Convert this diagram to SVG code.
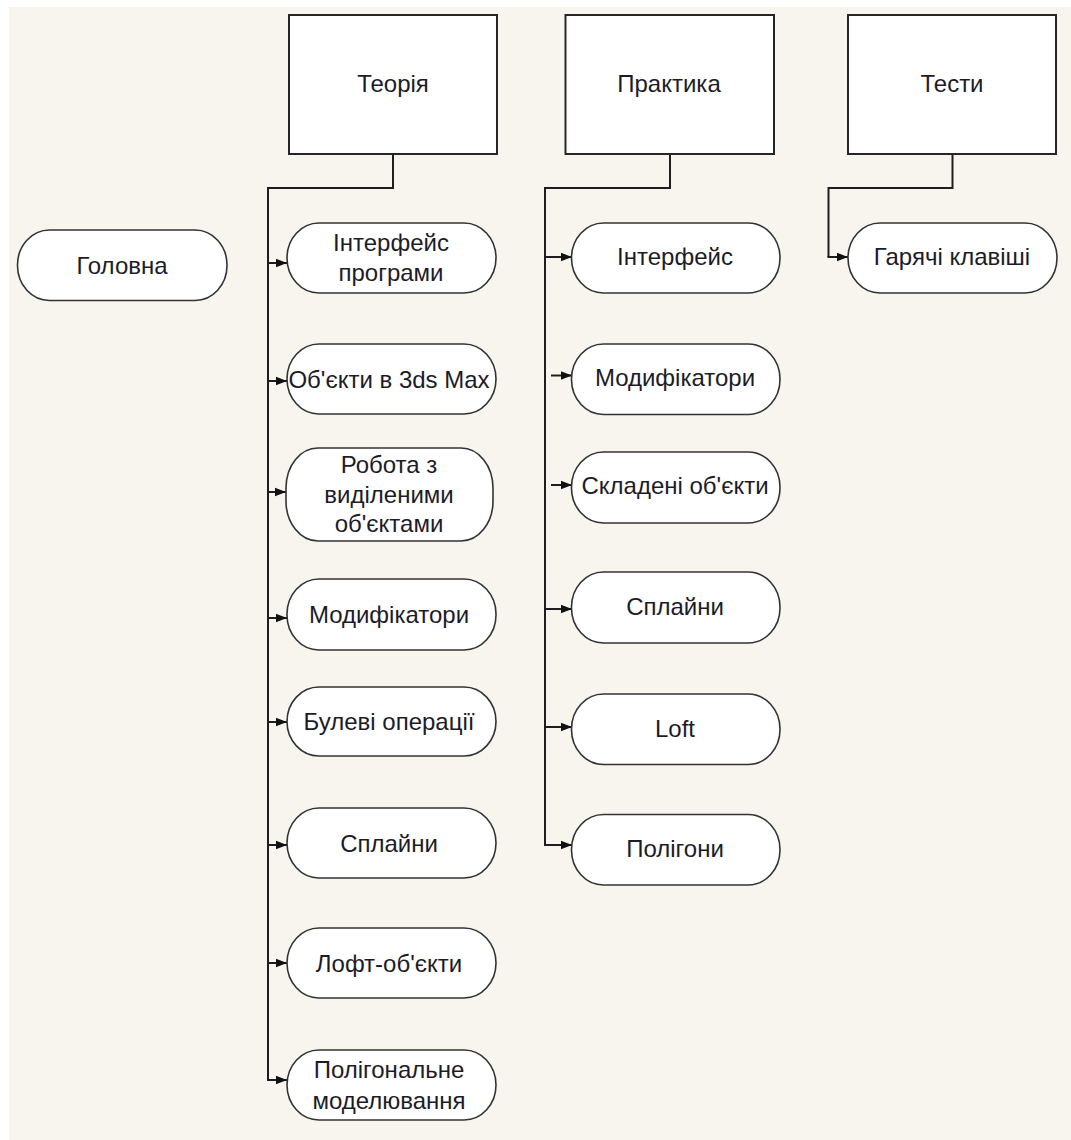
<svg xmlns="http://www.w3.org/2000/svg" width="1071" height="1140" viewBox="0 0 1071 1140">
  <style>
    .box { fill: #ffffff; stroke: #262626; stroke-width: 2; }
    .pill { fill: #ffffff; stroke: #333333; stroke-width: 1.6; }
    .lbl { font-family: "Liberation Sans", Arial, sans-serif; font-size: 24px; fill: #1c1c28; text-anchor: middle; }
    .wire { fill: none; stroke: #1e1e1e; stroke-width: 2; }
    .stub { fill: none; stroke: #1e1e1e; stroke-width: 2; marker-end: url(#head); }
  </style>
  <defs>
    <marker id="head" markerUnits="userSpaceOnUse" markerWidth="12" markerHeight="10" refX="11" refY="5" orient="auto">
      <path d="M0,0.8 L11,5 L0,9.2 Z" fill="#111111"/>
    </marker>
  </defs>

  <!-- canvas -->
  <rect x="0" y="0" width="1071" height="1140" fill="#ffffff"/>
  <rect x="9" y="7" width="1062" height="1133" fill="#f8f5ee"/>

  <!-- connectors -->
  <g id="connectors">
    <path class="wire" d="M393,154 V188 H268 V1080"/>
    <path class="stub" d="M268,263 H287"/>
    <path class="stub" d="M268,381 H287"/>
    <path class="stub" d="M268,492 H286"/>
    <path class="stub" d="M268,618 H287"/>
    <path class="stub" d="M268,722 H287"/>
    <path class="stub" d="M268,845 H287"/>
    <path class="stub" d="M268,963 H287"/>
    <path class="stub" d="M267,1080 H287"/>

    <path class="wire" d="M670,154 V188 H545 V845"/>
    <path class="stub" d="M545,257 H572"/>
    <path class="stub" d="M551,375.5 H572"/>
    <path class="stub" d="M551,485 H572"/>
    <path class="stub" d="M545,609 H572"/>
    <path class="stub" d="M545,727 H572"/>
    <path class="stub" d="M544,845 H572"/>

    <path class="wire" d="M952.5,154 V188 H828.5 V257"/>
    <path class="stub" d="M827.5,257 H848"/>
  </g>

  <!-- section boxes -->
  <g id="teoriia">
    <rect class="box" x="289" y="15" width="208" height="139"/>
    <text class="lbl" x="393" y="92">Теорія</text>
  </g>
  <g id="praktyka">
    <rect class="box" x="565.5" y="15" width="208.5" height="139"/>
    <text class="lbl" x="669" y="92">Практика</text>
  </g>
  <g id="testy">
    <rect class="box" x="848" y="15" width="208" height="139"/>
    <text class="lbl" x="952" y="92">Тести</text>
  </g>

  <!-- start node -->
  <g id="holovna">
    <rect class="pill" x="17.5" y="230" width="209.5" height="70.5" rx="32" ry="35"/>
    <text class="lbl" x="122" y="274">Головна</text>
  </g>

  <!-- theory topics -->
  <g id="t-interfeis">
    <rect class="pill" x="287" y="223" width="209" height="70" rx="32" ry="35"/>
    <text class="lbl" x="391" y="251">Інтерфейс</text>
    <text class="lbl" x="391" y="281">програми</text>
  </g>
  <g id="t-obiekty">
    <rect class="pill" x="287" y="344" width="209" height="70" rx="32" ry="35"/>
    <text class="lbl" x="389" y="388">Об'єкти в 3ds Max</text>
  </g>
  <g id="t-robota">
    <rect class="pill" x="286" y="448" width="207" height="93" rx="32" ry="40"/>
    <text class="lbl" x="389" y="473">Робота з</text>
    <text class="lbl" x="389" y="502.5">виділеними</text>
    <text class="lbl" x="389" y="532">об'єктами</text>
  </g>
  <g id="t-modyfikatory">
    <rect class="pill" x="287" y="579" width="209" height="71" rx="32" ry="35"/>
    <text class="lbl" x="389" y="623">Модифікатори</text>
  </g>
  <g id="t-bulevi">
    <rect class="pill" x="287" y="687" width="209" height="69" rx="32" ry="34.5"/>
    <text class="lbl" x="389" y="730">Булеві операції</text>
  </g>
  <g id="t-splainy">
    <rect class="pill" x="287" y="808" width="209" height="70" rx="32" ry="35"/>
    <text class="lbl" x="389" y="851.5">Сплайни</text>
  </g>
  <g id="t-loft">
    <rect class="pill" x="287" y="928" width="209" height="70" rx="32" ry="35"/>
    <text class="lbl" x="389" y="971.5">Лофт-об'єкти</text>
  </g>
  <g id="t-polihonalne">
    <rect class="pill" x="287" y="1050" width="209" height="70" rx="32" ry="35"/>
    <text class="lbl" x="389" y="1078">Полігональне</text>
    <text class="lbl" x="389" y="1109">моделювання</text>
  </g>

  <!-- practice topics -->
  <g id="p-interfeis">
    <rect class="pill" x="571.5" y="223" width="208.5" height="70" rx="32" ry="35"/>
    <text class="lbl" x="675" y="265">Інтерфейс</text>
  </g>
  <g id="p-modyfikatory">
    <rect class="pill" x="571.5" y="344" width="208.5" height="70.5" rx="32" ry="35"/>
    <text class="lbl" x="675" y="386">Модифікатори</text>
  </g>
  <g id="p-skladeni">
    <rect class="pill" x="571.5" y="452" width="208.5" height="71" rx="32" ry="35"/>
    <text class="lbl" x="675" y="494">Складені об'єкти</text>
  </g>
  <g id="p-splainy">
    <rect class="pill" x="571.5" y="572" width="208.5" height="71" rx="32" ry="35"/>
    <text class="lbl" x="675" y="615">Сплайни</text>
  </g>
  <g id="p-loft">
    <rect class="pill" x="571.5" y="694" width="208.5" height="70.5" rx="32" ry="35"/>
    <text class="lbl" x="675" y="737">Loft</text>
  </g>
  <g id="p-polihony">
    <rect class="pill" x="571.5" y="814.5" width="208.5" height="70.5" rx="32" ry="35"/>
    <text class="lbl" x="675" y="857">Полігони</text>
  </g>

  <!-- tests topic -->
  <g id="s-klavishi">
    <rect class="pill" x="848" y="223" width="209" height="70" rx="32" ry="35"/>
    <text class="lbl" x="952" y="265">Гарячі клавіші</text>
  </g>
</svg>
